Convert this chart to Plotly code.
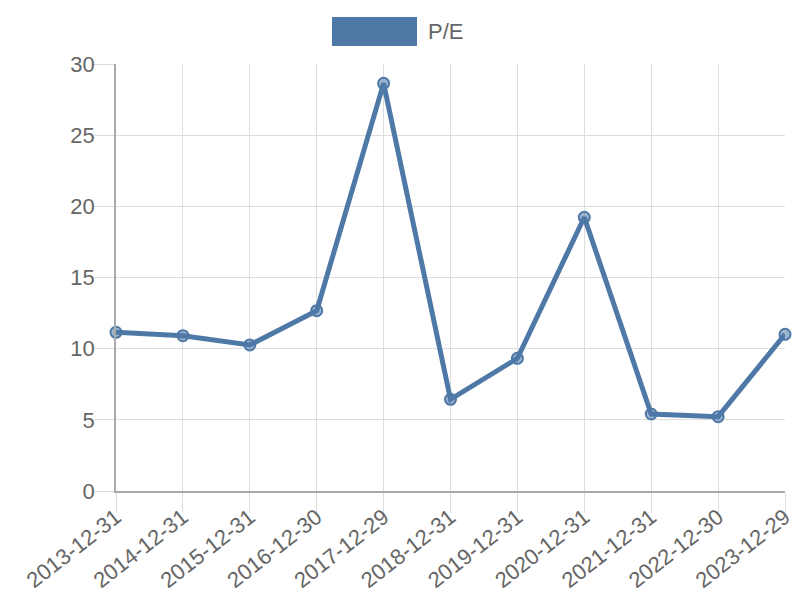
import plotly.graph_objects as go

dates = ["2013-12-31", "2014-12-31", "2015-12-31", "2016-12-30", "2017-12-29",
         "2018-12-31", "2019-12-31", "2020-12-31", "2021-12-31", "2022-12-30", "2023-12-29"]
pe = [11.15, 10.91, 10.26, 12.67, 28.64, 6.44, 9.32, 19.23, 5.41, 5.22, 11.01]
series_name = "P/E"
y_ticks = [0, 5, 10, 15, 20, 25, 30]

blue = "#4e79a7"
font = dict(family="Liberation Sans, Arial, sans-serif", color="#666666")

# page has an 8px body margin; figure is 792x592 so it fits the 800x600 window
OFF = 8
FW, FH = 800 - OFF, 600 - OFF
L, R, T, B = 116 - OFF, 785 - OFF, 64 - OFF, 491 - OFF
W, H = R - L, B - T

fig = go.Figure()
fig.add_trace(go.Scatter(
    x=dates, y=pe, name=series_name, mode="lines+markers",
    line=dict(color=blue, width=5),
    marker=dict(size=11, color="rgba(78,121,167,0.55)", line=dict(color=blue, width=2)),
    cliponaxis=False, showlegend=False,
))

# Chart.js-style legend: wide colored box + label
fig.add_shape(type="rect", xref="paper", yref="paper",
              x0=(332 - OFF - L) / W, x1=(417 - OFF - L) / W,
              y0=(B - (46 - OFF)) / H, y1=(B - (17 - OFF)) / H,
              fillcolor=blue, line=dict(width=0))
fig.add_annotation(xref="paper", yref="paper", x=(426 - OFF - L) / W, y=(B - (32 - OFF)) / H,
                   xanchor="left", yanchor="middle", text=series_name, showarrow=False,
                   font=dict(size=22, **font))

fig.update_layout(
    width=FW, height=FH,
    margin=dict(l=L, r=FW - R, t=T, b=FH - B),
    paper_bgcolor="white", plot_bgcolor="white",
    font=dict(size=22, **font),
    showlegend=False,
)
fig.update_xaxes(
    type="category", range=[0, len(dates) - 1], automargin=False,
    showgrid=True, gridcolor="#dddddd", gridwidth=1,
    showline=True, linecolor="#aaaaaa", linewidth=1.5,
    ticks="outside", ticklen=20, tickcolor="#dddddd", tickwidth=1,
    ticklabelstandoff=-17,
    tickangle=-38, tickfont=dict(size=22, **font),
)
fig.update_yaxes(
    range=[0, 30], tickvals=y_ticks, automargin=False,
    showgrid=True, gridcolor="#dddddd", gridwidth=1,
    showline=True, linecolor="#aaaaaa", linewidth=1.5,
    ticks="outside", ticklen=20, tickcolor="#dddddd", tickwidth=1,
    ticklabelstandoff=-5,
    zeroline=False, tickfont=dict(size=22, **font),
)

fig.write_html("out.html")
